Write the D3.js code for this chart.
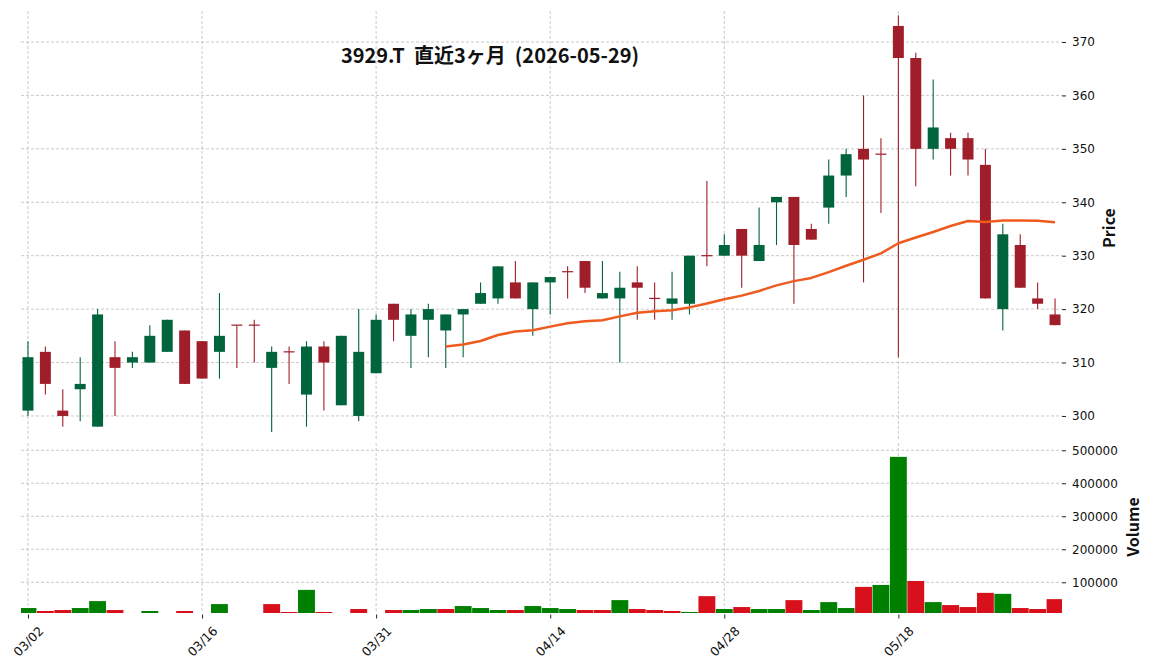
<!DOCTYPE html>
<html>
<head>
<meta charset="utf-8">
<script src="https://cdn.jsdelivr.net/npm/d3@7"></script>
<style>
  html, body { margin: 0; padding: 0; background: #fff; }
  svg { display: block; }
</style>
</head>
<body>
<svg id="chart" width="1152" height="670"></svg>
<script>
// ---------------- data ----------------
const dates = [
  "03/02","03/03","03/04","03/05","03/06","03/09","03/10","03/11","03/12","03/13",
  "03/16","03/17","03/18","03/19","03/23","03/24","03/25","03/26","03/27","03/30",
  "03/31","04/01","04/02","04/03","04/06","04/07","04/08","04/09","04/10","04/13",
  "04/14","04/15","04/16","04/17","04/20","04/21","04/22","04/23","04/24","04/27",
  "04/28","04/30","05/01","05/07","05/08","05/11","05/12","05/13","05/14","05/15",
  "05/18","05/19","05/20","05/21","05/22","05/25","05/26","05/27","05/28","05/29"
];
const opens = [
  301,312,301,305,298,311,310,310,312,316,
  314,312,317,317,309,312,304,313,302,300,
  308,321,315,318,316,319,321,322,325,320,
  325,327,329,322,322,325,322,321,321,330,
  330,335,329,340,341,335,339,345,350,349,
  373,367,350,352,352,347,320,332,322,319
];
const highs = [
  314,313,305,311,320,314,312,317,318,316,
  314,323,317,318,313,313,314,314,315,320,
  319,321,320,321,319,320,325,328,329,325,
  326,328,329,329,327,328,325,327,330,344,
  334,335,339,341,341,336,348,350,360,352,
  375,368,363,353,353,350,336,334,325,322
];
const lows = [
  300,304,298,299,298,300,309,310,312,306,
  307,307,309,310,297,306,298,301,302,299,
  308,314,309,311,309,311,321,321,322,315,
  319,322,323,322,310,318,318,318,319,328,
  330,324,329,332,321,333,336,341,325,338,
  311,343,348,345,345,322,316,324,320,317
];
const closes = [
  311,306,300,306,319,309,311,315,318,306,
  307,315,317,317,312,312,313,310,315,312,
  318,318,319,320,319,320,323,328,322,325,
  326,327,324,323,324,324,322,322,330,330,
  332,330,332,341,332,333,345,349,348,349,
  367,350,354,350,348,322,334,324,321,317
];
const volumes = [
  22000,13000,16000,22000,43000,16000,5000,13000,5000,13000,
  5000,34000,5000,5000,34000,10000,77000,10000,5000,19000,
  5000,16000,16000,19000,19000,28000,22000,16000,16000,28000,
  22000,19000,16000,16000,46000,19000,16000,13000,10000,58000,
  19000,25000,19000,19000,46000,16000,40000,22000,86000,92000,
  480000,104000,40000,31000,25000,68000,65000,22000,19000,49000
];
// 25-day moving average line
const ma25 = [
  null,null,null,null,null,null,null,null,null,null,
  null,null,null,null,null,null,null,null,null,null,
  null,null,null,null,313.00,313.36,314.04,315.16,315.80,316.04,
  316.72,317.36,317.72,317.92,318.64,319.32,319.60,319.80,320.32,321.04,
  321.84,322.52,323.40,324.44,325.24,325.84,326.92,328.12,329.24,330.44,
  332.32,333.40,334.44,335.56,336.48,336.32,336.60,336.60,336.52,336.24
];
const priceTicks = [300,310,320,330,340,350,360,370];
const volumeTicks = [100000,200000,300000,400000,500000];
const xTickLabels = ["03/02","03/16","03/31","04/14","04/28","05/18"];
const titleText = "3929.T  直近3ヶ月  (2026-05-29)";
const priceLabel = "Price";
const volumeLabel = "Volume";

// ---------------- layout & style ----------------
const pL = 21, pR = 1062, pT = 11, pB = 440;   // price panel
const vT = 443, vB = 613;                      // volume panel
const UP = "#00643c", DOWN = "#a01e29";
const VUP = "#008000", VDOWN = "#d7101c";
const MACOL = "#ef5a1e";
const GRID = "#bdbdbd";
const tickFont = "'DejaVu Sans', sans-serif";
const cjkFont = "'Noto Sans CJK JP', 'Noto Sans', sans-serif";

const svg = d3.select("#chart");
const n = dates.length;

const x = d3.scaleLinear().domain([-0.4, n - 0.6]).range([pL, pR]);
const step = x(1) - x(0);
const y = d3.scaleLinear().domain([295.5, 375.8]).range([pB, pT]);
const yV = d3.scaleLinear().domain([0, 522000]).range([615.3, vT]);

const tickIdx = xTickLabels.map(l => dates.indexOf(l));

// clip paths
const defs = svg.append("defs");
defs.append("clipPath").attr("id", "clipP").append("rect")
  .attr("x", pL).attr("y", pT).attr("width", pR - pL).attr("height", pB - pT);
defs.append("clipPath").attr("id", "clipV").append("rect")
  .attr("x", pL).attr("y", vT).attr("width", pR - pL).attr("height", vB - vT);

// ---------------- grid ----------------
const grid = svg.append("g").attr("stroke", GRID).attr("stroke-width", 0.8)
  .attr("stroke-dasharray", "3,2").attr("fill", "none");
grid.selectAll(".hp").data(priceTicks).join("line")
  .attr("x1", pL).attr("x2", pR).attr("y1", d => y(d)).attr("y2", d => y(d));
grid.selectAll(".hv").data(volumeTicks).join("line")
  .attr("x1", pL).attr("x2", pR).attr("y1", d => yV(d)).attr("y2", d => yV(d));
grid.selectAll(".vp").data(tickIdx).join("line")
  .attr("x1", d => x(d)).attr("x2", d => x(d)).attr("y1", pT).attr("y2", pB);
grid.selectAll(".vv").data(tickIdx).join("line")
  .attr("x1", d => x(d)).attr("x2", d => x(d)).attr("y1", vT).attr("y2", vB);

// ---------------- candles ----------------
const candles = d3.range(n).map(i => ({
  i, o: opens[i], h: highs[i], l: lows[i], c: closes[i], up: closes[i] > opens[i]
}));
const bw = step * 0.63;
const cg = svg.append("g").attr("clip-path", "url(#clipP)");
cg.selectAll("line.wick").data(candles).join("line").attr("class", "wick")
  .attr("x1", d => x(d.i)).attr("x2", d => x(d.i))
  .attr("y1", d => y(d.h)).attr("y2", d => y(d.l))
  .attr("stroke", d => d.up ? UP : DOWN).attr("stroke-width", 1.1);
cg.selectAll("rect.body").data(candles).join("rect").attr("class", "body")
  .attr("x", d => x(d.i) - bw / 2).attr("width", bw)
  .attr("y", d => d.o === d.c ? y(d.o) - 0.6 : y(Math.max(d.o, d.c)))
  .attr("height", d => d.o === d.c ? 1.2 : Math.abs(y(d.o) - y(d.c)))
  .attr("fill", d => d.up ? UP : DOWN);

// moving average
const maLine = d3.line().defined(d => d != null).x((d, i) => x(i)).y(d => y(d));
cg.append("path").datum(ma25).attr("d", maLine)
  .attr("fill", "none").attr("stroke", MACOL).attr("stroke-width", 2.5)
  .attr("stroke-linejoin", "round");

// ---------------- volume ----------------
const vw = step * 0.97;
const vg = svg.append("g").attr("clip-path", "url(#clipV)");
vg.selectAll("rect").data(d3.range(n)).join("rect")
  .attr("x", i => x(i) - vw / 2).attr("width", vw)
  .attr("y", i => yV(volumes[i]))
  .attr("height", i => Math.max(0, vB - yV(volumes[i])))
  .attr("fill", i => closes[i] > (i === 0 ? opens[0] : closes[i - 1]) ? VUP : VDOWN);

// ---------------- axes ----------------
function styleAxis(g, size) {
  g.select(".domain").remove();
  g.selectAll(".tick line").attr("stroke", "#222").attr("stroke-width", 1);
  g.selectAll(".tick text").attr("fill", "#111")
    .style("font-family", tickFont).style("font-size", size);
}
svg.append("g").attr("transform", `translate(${pR},0)`)
  .call(d3.axisRight(y).tickValues(priceTicks).tickSize(4).tickPadding(6).tickFormat(d3.format("d")))
  .call(g => styleAxis(g, "12px"));
svg.append("g").attr("transform", `translate(${pR},0)`)
  .call(d3.axisRight(yV).tickValues(volumeTicks).tickSize(4).tickPadding(6).tickFormat(d3.format("d")))
  .call(g => styleAxis(g, "12px"));

const xa = svg.append("g").attr("transform", `translate(0,${vB + 1.5})`)
  .call(d3.axisBottom(x).tickValues(tickIdx).tickSize(4).tickFormat(i => dates[i]))
  .call(g => styleAxis(g, "12.5px"));
xa.selectAll(".tick text")
  .attr("text-anchor", "middle").attr("dy", "0.35em")
  .attr("y", 0)
  .attr("transform", "translate(0,27) rotate(-45)");

// ---------------- labels ----------------
svg.append("text").attr("x", 490).attr("y", 63)
  .attr("text-anchor", "middle").attr("xml:space", "preserve")
  .style("white-space", "pre")
  .style("font-family", cjkFont).style("font-weight", "bold").style("font-size", "20px")
  .attr("fill", "#111").text(titleText);

svg.append("text").attr("transform", "translate(1109,228) rotate(-90)")
  .attr("text-anchor", "middle").attr("dy", "0.35em")
  .style("font-family", cjkFont).style("font-weight", "bold").style("font-size", "16px")
  .attr("fill", "#111").text(priceLabel);
svg.append("text").attr("transform", "translate(1133,527) rotate(-90)")
  .attr("text-anchor", "middle").attr("dy", "0.35em")
  .style("font-family", cjkFont).style("font-weight", "bold").style("font-size", "16px")
  .attr("fill", "#111").text(volumeLabel);
</script>
</body>
</html>
